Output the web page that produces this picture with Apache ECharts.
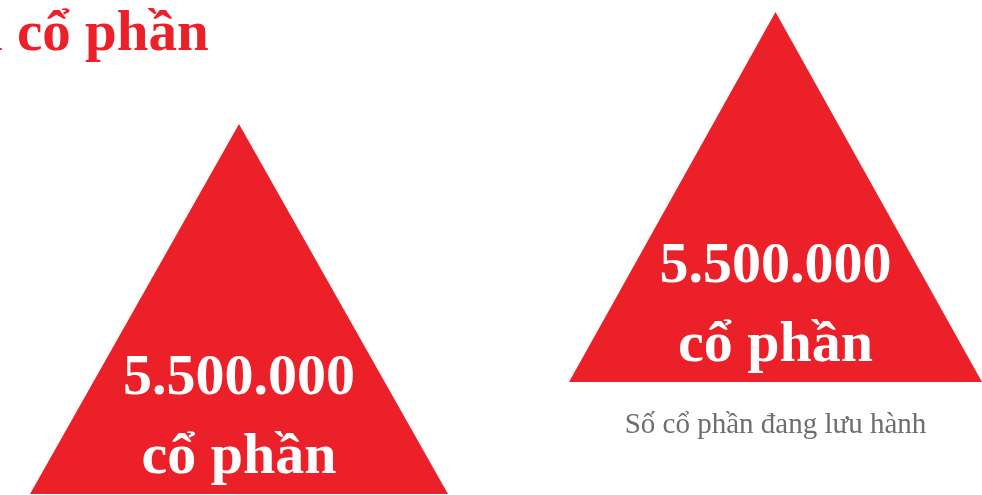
<!DOCTYPE html>
<html>
<head>
<meta charset="utf-8">
<script src="https://cdn.jsdelivr.net/npm/echarts@6/dist/echarts.min.js"></script>
<style>html,body{margin:0;padding:0;background:#fff}#c{width:982px;height:495px}</style>
</head>
<body>
<div id="c"></div>
<script>
const titleText = 'n cổ phần';
const categories = ['', 'Số cổ phần đang lưu hành'];
const shareValues = [5500000, 5500000];
const unitLabel = 'cổ phần';

const RED = '#EC2029';
const FONT = "'Liberation Serif', 'Times New Roman', serif";

function fmt(v) {
  return String(v).replace(/\B(?=(\d{3})+(?!\d))/g, '.');
}

const grids = [
  { left: 30, top: 124, width: 418, height: 370 },
  { left: 569, top: 12, width: 418, height: 370 }
];

const chart = echarts.init(document.getElementById('c'), null, { renderer: 'canvas' });
chart.setOption({
  animation: false,
  backgroundColor: '#ffffff',
  title: {
    text: titleText,
    left: -29,
    top: 7,
    padding: 0,
    textStyle: { color: RED, fontFamily: FONT, fontWeight: 'bold', fontSize: 57, lineHeight: 57 }
  },
  grid: grids,
  xAxis: categories.map((c, i) => ({
    type: 'category',
    gridIndex: i,
    data: [c],
    axisLine: { show: false },
    axisTick: { show: false },
    splitLine: { show: false },
    axisLabel: {
      show: c !== '',
      margin: 29,
      color: '#6d6e71',
      fontFamily: FONT,
      fontSize: 29,
      verticalAlign: 'top'
    }
  })),
  yAxis: categories.map((c, i) => ({
    type: 'value',
    gridIndex: i,
    min: 0,
    max: 5500000,
    show: false
  })),
  series: categories.map((c, i) => ({
    type: 'pictorialBar',
    xAxisIndex: i,
    yAxisIndex: i,
    symbol: 'triangle',
    symbolSize: ['100%', '100%'],
    barCategoryGap: '0%',
    barWidth: '100%',
    itemStyle: { color: RED },
    label: {
      show: true,
      position: ['50%', '79.5%'],
      align: 'center',
      verticalAlign: 'middle',
      color: '#ffffff',
      fontFamily: FONT,
      fontWeight: 'bold',
      fontSize: 58,
      lineHeight: 79,
      formatter: p => fmt(p.value) + '\n' + unitLabel
    },
    data: [shareValues[i]]
  }))
});
</script>
</body>
</html>
